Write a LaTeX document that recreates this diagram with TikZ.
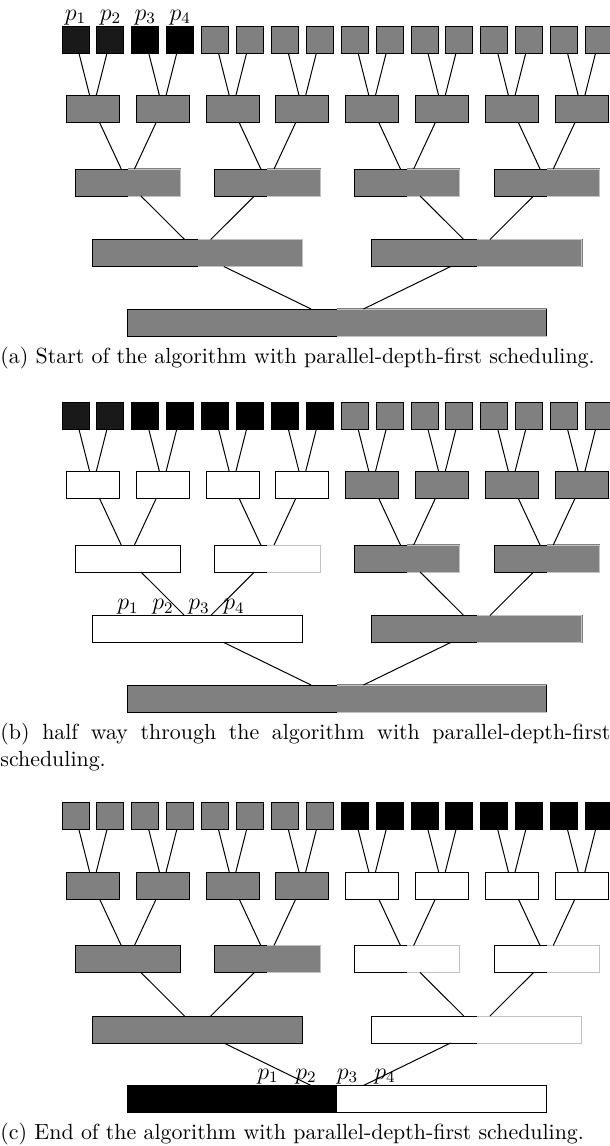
\documentclass[tikz,border=0pt]{standalone}
\usetikzlibrary{calc}
\definecolor{dk}{gray}{0.1}
\definecolor{md}{gray}{0.5}
\definecolor{edge}{gray}{0.76}
\tikzset{
  bx/.style={draw=black, line width=0.5pt, inner sep=0pt, outer sep=0pt, minimum height=13.5pt},
  leafbox/.style={bx, minimum width=13.5pt},
  twobox/.style={bx, minimum width=26.5pt},
  threebox/.style={bx, minimum width=52.5pt},
  fourbox/.style={bx, minimum width=105pt},
  fivebox/.style={bx, minimum width=209.5pt},
  conn/.style={line width=0.5pt},
  faint/.style={draw=edge, line width=0.45pt},
  plabel/.style={font=\large, anchor=base, inner sep=0pt},
  captext/.style={font=\fontsize{10.95}{13.6}\selectfont, anchor=base west, inner sep=0pt},
}
% right half of a box repainted without its black border
\newcommand\halfcover[2]{%
  \fill[#2] ([yshift=0.35pt]#1.north) rectangle ([xshift=0.35pt,yshift=-0.35pt]#1.south east);
  \draw[faint] (#1.north) -- (#1.north east) -- (#1.south east) -- (#1.south);}
% #1 name, #2 vertical offset, #3 leaves, #4 level 2, #5 level 3, #6 level 4, #7 level 5 options, #8 level 5 overlay
\newcommand\treepanel[8]{%
  \foreach \i/\c in {#3}{\node[leafbox, fill=\c] (#1-L1-\i) at ({75.5+34.9*(\i-1)}, {#2+39.5}) {};}
  \foreach \i/\c in {#4}{\node[twobox, fill=\c] (#1-L2-\i) at ({92.95+69.8*(\i-1)}, {#2+109}) {};}
  \foreach \i/\c/\h in {#5}{\node[threebox, fill=\c] (#1-L3-\i) at ({127.85+139.6*(\i-1)}, {#2+182.5}) {};
    \ifnum\h=1 \halfcover{#1-L3-\i}{\c}\fi}
  \foreach \i/\c/\h in {#6}{\node[fourbox, fill=\c] (#1-L4-\i) at ({197.65+279.2*(\i-1)}, {#2+253}) {};
    \ifnum\h=1 \halfcover{#1-L4-\i}{\c}\fi}
  \node[fivebox, #7] (#1-L5) at (337.25, {#2+322.5}) {};
  #8
  \foreach \j in {1,...,8}{\pgfmathtruncatemacro\ca{2*\j-1}\pgfmathtruncatemacro\cb{2*\j}
    \draw[conn] ([xshift=1.7pt]#1-L1-\ca.south) -- ([xshift=-1.65pt]#1-L2-\j.north);
    \draw[conn] ([xshift=-1.7pt]#1-L1-\cb.south) -- ([xshift=1.65pt]#1-L2-\j.north);}
  \foreach \j in {1,...,4}{\pgfmathtruncatemacro\ca{2*\j-1}\pgfmathtruncatemacro\cb{2*\j}
    \draw[conn] ([xshift=3.3pt]#1-L2-\ca.south) -- ([xshift=-3.3pt]#1-L3-\j.north);
    \draw[conn] ([xshift=-3.3pt]#1-L2-\cb.south) -- ([xshift=3.3pt]#1-L3-\j.north);}
  \foreach \j in {1,2}{\pgfmathtruncatemacro\ca{2*\j-1}\pgfmathtruncatemacro\cb{2*\j}
    \draw[conn] ([xshift=6.55pt]#1-L3-\ca.south) -- ([xshift=-6.55pt]#1-L4-\j.north);
    \draw[conn] ([xshift=-6.55pt]#1-L3-\cb.south) -- ([xshift=6.55pt]#1-L4-\j.north);}
  \draw[conn] ([xshift=13.1pt]#1-L4-1.south) -- ([xshift=-13.1pt]#1-L5.north);
  \draw[conn] ([xshift=-13.1pt]#1-L4-2.south) -- ([xshift=13.1pt]#1-L5.north);
}
\begin{document}
\begin{tikzpicture}[x=0.5pt, y=-0.5pt]
\useasboundingbox (0,0) rectangle (610,1146);
% ---------- (a) ----------
\treepanel{a}{0}
  {1/dk,2/dk,3/black,4/black,5/md,6/md,7/md,8/md,9/md,10/md,11/md,12/md,13/md,14/md,15/md,16/md}
  {1/md,2/md,3/md,4/md,5/md,6/md,7/md,8/md}
  {1/md/1,2/md/1,3/md/1,4/md/1}
  {1/md/1,2/md/1}
  {fill=md}
  {\halfcover{a-L5}{md}\draw[line width=0.5pt] (a-L5.north east) -- (a-L5.south east);}
\foreach \i in {1,...,4}{\node[plabel] (a-p\i) at ({75.5+34.9*(\i-1)}, 20.3) {$p_{\i}$};}
\node[captext] (a-cap) at (0,363) {(a) Start of the algorithm with parallel-depth-first scheduling.};
% ---------- (b) ----------
\treepanel{b}{376}
  {1/dk,2/dk,3/black,4/black,5/black,6/black,7/black,8/black,9/md,10/md,11/md,12/md,13/md,14/md,15/md,16/md}
  {1/white,2/white,3/white,4/white,5/md,6/md,7/md,8/md}
  {1/white/0,2/white/1,3/md/1,4/md/1}
  {1/white/0,2/md/1}
  {fill=md}
  {\halfcover{b-L5}{md}\draw[line width=0.5pt] (b-L5.north east) -- (b-L5.south east);}
\foreach \i/\x in {1/128,2/163,3/199,4/234}{\node[plabel] (b-p\i) at (\x, 609.6) {$p_{\i}$};}
\node[captext] (b-cap) at (0,739) {\parbox[t]{305pt}{(b) half way through the algorithm with parallel-depth-first\linebreak scheduling.}};
% ---------- (c) ----------
\treepanel{c}{776.5}
  {1/md,2/md,3/md,4/md,5/md,6/md,7/md,8/md,9/black,10/black,11/black,12/black,13/black,14/black,15/black,16/black}
  {1/md,2/md,3/md,4/md,5/white,6/white,7/white,8/white}
  {1/md/0,2/md/1,3/white/1,4/white/1}
  {1/md/0,2/white/1}
  {fill=white}
  {\fill[black] (c-L5.north west) rectangle (c-L5.south);}
\foreach \i/\x in {1/268,2/306,3/347.5,4/385}{\node[plabel] (c-p\i) at (\x, 1079) {$p_{\i}$};}
\node[captext] (c-cap) at (0,1139.5) {(c) End of the algorithm with parallel-depth-first scheduling.};
\end{tikzpicture}
\end{document}
